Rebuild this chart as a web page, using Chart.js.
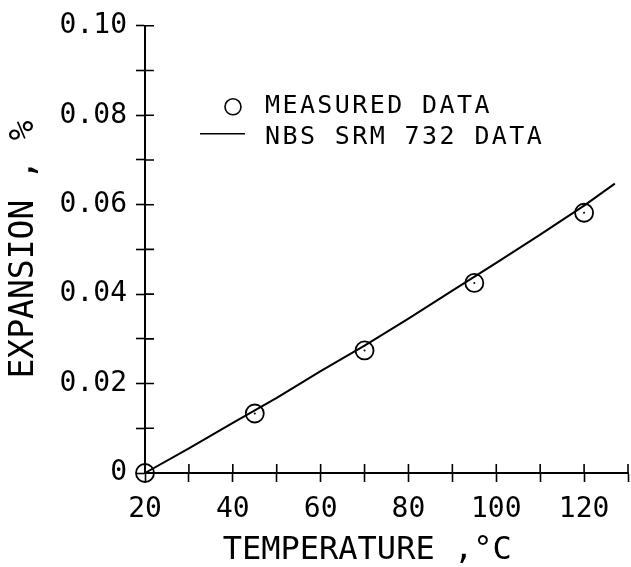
<!DOCTYPE html>
<html>
<head>
<meta charset="utf-8">
<script src="https://cdn.jsdelivr.net/npm/chart.js@4/dist/chart.umd.min.js"></script>
<style>
  body { margin: 0; background: #fff; }
  canvas { display: block; }
</style>
</head>
<body>
<canvas id="chart" width="631" height="567"></canvas>
<script>
const measuredTemps = [20, 45, 70, 95, 120];
const measuredExpansion = [0, 0.0133, 0.0274, 0.0425, 0.0582];

const srmTemps = [20, 30, 40, 50, 60, 70, 80, 90, 100, 110, 120, 127];
const srmExpansion = [0, 0.0055, 0.0112, 0.0168, 0.0228, 0.0285, 0.0345, 0.0408, 0.0470, 0.0533, 0.0598, 0.0647];

// trailing spaces nudge the centred title a bit left, like the original
const xTitle = "TEMPERATURE ,°C\u00a0\u00a0";
const yTitle = "EXPANSION , %";
const legendLabels = ["MEASURED DATA", "NBS SRM 732 DATA"];

const FONT = "'DejaVu Sans Mono', monospace";

const toPoints = (xs, ys) => xs.map((x, i) => ({ x, y: ys[i] }));

// ticks cross the axis: chart.js draws the outer half, this draws the inner half
const crossTicks = {
  id: "crossTicks",
  afterDraw(chart) {
    const { ctx, chartArea, scales } = chart;
    const len = 9;
    ctx.save();
    ctx.strokeStyle = "#000";
    ctx.lineWidth = 1.6;
    ctx.beginPath();
    scales.x.ticks.forEach(t => {
      const px = scales.x.getPixelForValue(t.value);
      ctx.moveTo(px, chartArea.bottom);
      ctx.lineTo(px, chartArea.bottom - len);
    });
    scales.y.ticks.forEach(t => {
      const py = scales.y.getPixelForValue(t.value);
      ctx.moveTo(chartArea.left, py);
      ctx.lineTo(chartArea.left + len, py);
    });
    ctx.stroke();
    ctx.restore();
  }
};

const insetLegend = {
  id: "insetLegend",
  afterDraw(chart) {
    const { ctx, chartArea } = chart;
    const x0 = chartArea.left + 88;
    const rows = [chartArea.top + 81, chartArea.top + 112];
    ctx.save();
    ctx.strokeStyle = "#000";
    ctx.fillStyle = "#000";
    ctx.lineWidth = 1.6;
    ctx.beginPath();
    ctx.arc(x0, rows[0], 8, 0, Math.PI * 2);
    ctx.stroke();
    ctx.beginPath();
    ctx.moveTo(x0 - 33, rows[1] - 4);
    ctx.lineTo(x0 + 12, rows[1] - 4);
    ctx.stroke();
    ctx.font = "25px " + FONT;
    ctx.letterSpacing = "2.4px";
    ctx.textBaseline = "middle";
    ctx.textAlign = "left";
    legendLabels.forEach((txt, i) => ctx.fillText(txt, x0 + 32, rows[i]));
    ctx.restore();
  }
};

new Chart(document.getElementById("chart"), {
  type: "scatter",
  data: {
    datasets: [
      {
        label: legendLabels[1],
        type: "line",
        data: toPoints(srmTemps, srmExpansion),
        borderColor: "#000",
        borderWidth: 2,
        pointRadius: 0,
        tension: 0,
        fill: false,
        clip: false
      },
      {
        label: legendLabels[0],
        data: toPoints(measuredTemps, measuredExpansion),
        pointStyle: "circle",
        pointRadius: 9,
        borderColor: "#000",
        borderWidth: 1.8,
        backgroundColor: "rgba(0,0,0,0)",
        clip: false
      },
      {
        label: "centres",
        data: toPoints(measuredTemps, measuredExpansion),
        pointRadius: 1,
        borderWidth: 0,
        backgroundColor: "#000",
        clip: false
      }
    ]
  },
  options: {
    responsive: false,
    animation: false,
    layout: { autoPadding: false, padding: { top: 25, right: 3, left: 0, bottom: 0 } },
    plugins: {
      legend: { display: false },
      tooltip: { enabled: false }
    },
    scales: {
      x: {
        type: "linear",
        min: 20,
        max: 130,
        afterFit: s => { s.height = 94; s.paddingLeft = 0; s.paddingRight = 0; },
        border: { display: true, color: "#000", width: 2 },
        grid: { drawOnChartArea: false, drawTicks: true, tickLength: 9, tickColor: "#000", tickWidth: 1.6 },
        ticks: {
          stepSize: 10,
          autoSkip: false,
          maxRotation: 0,
          padding: 11,
          color: "#000",
          font: { family: FONT, size: 28 },
          callback: v => (v % 20 === 0 ? String(v) : "")
        },
        title: {
          display: true,
          text: xTitle,
          color: "#000",
          font: { family: FONT, size: 32, lineHeight: 1 },
          padding: { top: 0, bottom: 0 }
        }
      },
      y: {
        type: "linear",
        min: 0,
        max: 0.1,
        afterFit: s => { s.width = 145; },
        border: { display: true, color: "#000", width: 2 },
        grid: { drawOnChartArea: false, drawTicks: true, tickLength: 9, tickColor: "#000", tickWidth: 1.6 },
        ticks: {
          stepSize: 0.01,
          autoSkip: false,
          padding: 9,
          color: "#000",
          font: { family: FONT, size: 28 },
          callback: v => {
            const n = Math.round(v * 100);
            if (n % 2 !== 0) return "";
            return n === 0 ? "0" : (n / 100).toFixed(2);
          }
        },
        title: {
          display: true,
          text: yTitle,
          color: "#000",
          font: { family: FONT, size: 33, lineHeight: 1 },
          padding: { top: 8, bottom: 0 }
        }
      }
    }
  },
  plugins: [crossTicks, insetLegend]
});
</script>
</body>
</html>
